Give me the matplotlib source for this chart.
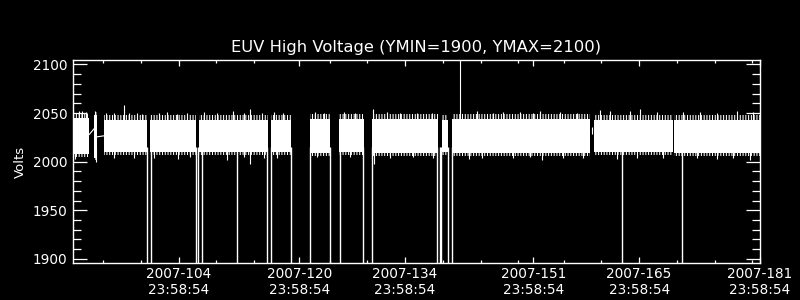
import numpy as np
import matplotlib
matplotlib.use("Agg")
import matplotlib.pyplot as plt
from matplotlib.ticker import FixedLocator, MultipleLocator

# Day-of-year 2007 (ticks sit at 23:58:54 of each day)
seg_start = [90.01, 92.84, 94.07, 100.25, 106.65, 111.78, 116.27, 121.43,
             125.27, 129.64, 138.87, 140.19, 159.08, 169.62]
seg_end = [92.18, 93.19, 99.81, 106.34, 111.68, 115.83, 118.87, 124.00,
           128.50, 138.42, 139.75, 158.50, 169.54, 181.00]
# solid core of the noise band
seg_lo = [2008, 2004, 2010, 2010, 2010, 2010, 2010, 2009,
          2010, 2009, 2010, 2009, 2010, 2009]
seg_hi = [2045, 2048, 2043, 2043, 2043, 2043, 2043, 2044,
          2044, 2044, 2043, 2044, 2043, 2043]
# ragged fringe reached by most of the noise
fringe_lo = [2005, 2002, 2006.5, 2006.5, 2006.5, 2006.5, 2006.5, 2006,
             2006.5, 2006, 2006.5, 2006, 2006.5, 2006]
fringe_hi = [2049, 2051, 2047.5, 2047.5, 2047.5, 2047.5, 2047.5, 2048.5,
             2048.5, 2048.5, 2047.5, 2048.5, 2048, 2048]

# taller excursions above the band (day, volts)
up_days = [90.76, 91.20, 91.78, 93.00, 94.43, 95.40, 96.72, 97.38, 98.49, 99.15,
           101.35, 102.46, 103.78, 105.10, 107.31, 109.08, 111.15, 112.61, 113.53,
           115.03, 116.58, 117.90, 122.10, 123.20, 125.85, 127.39, 129.69, 131.58,
           133.35, 135.56, 137.54, 141.29, 143.50, 145.70, 147.03, 149.24, 151.00,
           151.88, 154.53, 156.74, 159.83, 161.15, 163.80, 165.12, 167.33, 170.86,
           173.07, 175.27, 177.92, 180.13]
up_volts = [2052, 2052, 2051, 2052, 2050, 2050, 2058, 2050, 2050, 2049,
            2050, 2051, 2049, 2050, 2051, 2050, 2052, 2050, 2054,
            2050, 2051, 2050, 2051, 2050, 2051, 2050, 2054, 2051,
            2050, 2050, 2050, 2104, 2052, 2050, 2051, 2051, 2050,
            2052, 2051, 2050, 2053, 2052, 2052, 2054, 2051, 2051,
            2051, 2050, 2052, 2051]

# deeper excursions below the band (day, volts)
down_days = [90.32, 93.06, 95.40, 98.05, 100.69, 103.87, 105.55, 110.40, 112.61,
             113.49, 115.26, 117.02, 122.32, 126.73, 129.91, 132.03, 135.11, 137.76,
             142.40, 144.16, 148.35, 150.56, 152.10, 154.97, 157.62, 162.03, 164.68,
             168.21, 172.63, 175.27, 177.48, 179.69]
down_volts = [2003, 2000, 2004, 2004, 2004, 2003, 2005, 2002, 2005,
              1998, 2004, 2004, 2005, 2005, 1998, 2004, 2005, 2004,
              2003, 2004, 2004, 2005, 2002, 2004, 2004, 2003, 2004,
              2004, 2004, 2003, 2004, 2002]

# dropouts to far below the plot range
drop_days = [99.82, 100.35, 106.25, 106.52, 107.05, 111.73, 115.78, 116.31,
             118.88, 121.44, 124.00, 125.32, 128.49, 129.64, 138.29, 138.56,
             138.74, 139.75, 140.28, 162.74, 170.69]

major_days = [104, 120, 134, 151, 165, 181]
minor_days = [94, 99, 109, 114, 124, 129, 139, 144, 149, 155, 160, 170, 175, 180]
tick_time = "23:58:54"

plt.rcParams["hatch.color"] = "white"
plt.rcParams["hatch.linewidth"] = 0.75

fig = plt.figure(figsize=(8, 3), dpi=100, facecolor="black")
ax = fig.add_axes([0.091, 0.1223, 0.859, 0.6777], facecolor="black")

lw = 0.8
for s, e, lo, hi, flo, fhi in zip(seg_start, seg_end, seg_lo, seg_hi,
                                  fringe_lo, fringe_hi):
    ax.fill_between([s, e], lo, hi, color="white", lw=0)
    ax.fill_between([s, e], hi, fhi, facecolor="none", edgecolor="white",
                    hatch="||||||", lw=0)
    ax.fill_between([s, e], flo, lo, facecolor="none", edgecolor="white",
                    hatch="||||||", lw=0)

ax.vlines(up_days, 2040, up_volts, color="white", lw=lw)
ax.vlines(down_days, down_volts, 2015, color="white", lw=lw)
ax.vlines(drop_days, 1850, 2015, color="white", lw=1.0)

# connecting pieces across the short gaps
ax.plot([92.18, 92.84], [2028, 2034], color="white", lw=lw)
ax.plot([93.19, 94.07], [2025.5, 2026.5], color="white", lw=lw)
ax.vlines([158.78], 2028, 2036, color="white", lw=lw)

ax.set_xlim(90, 181)
ax.set_ylim(1895.5, 2104.5)

ax.xaxis.set_major_locator(FixedLocator(major_days))
ax.xaxis.set_minor_locator(FixedLocator(minor_days))
ax.set_xticklabels(["2007-%03d\n%s" % (d, tick_time) for d in major_days])
ax.set_yticks([1900, 1950, 2000, 2050, 2100])
ax.yaxis.set_minor_locator(MultipleLocator(10))

for sp in ax.spines.values():
    sp.set_color("white")
    sp.set_linewidth(1.0)

ax.tick_params(axis="both", which="both", direction="in", colors="white",
               top=True, right=True, width=0.9, labelsize=9.8)
ax.tick_params(axis="x", which="major", length=4.5, pad=3)
ax.tick_params(axis="x", which="minor", length=2.3)
ax.tick_params(axis="y", which="major", length=10, pad=4)
ax.tick_params(axis="y", which="minor", length=5.6)
for lab in ax.get_xticklabels():
    lab.set_linespacing(1.15)

ax.set_ylabel("Volts", color="white", fontsize=9.5, labelpad=4)
ax.set_title("EUV High Voltage (YMIN=1900, YMAX=2100)", color="white",
             fontsize=11.8, pad=6)

fig.savefig("out.png", dpi=100, facecolor="black")
